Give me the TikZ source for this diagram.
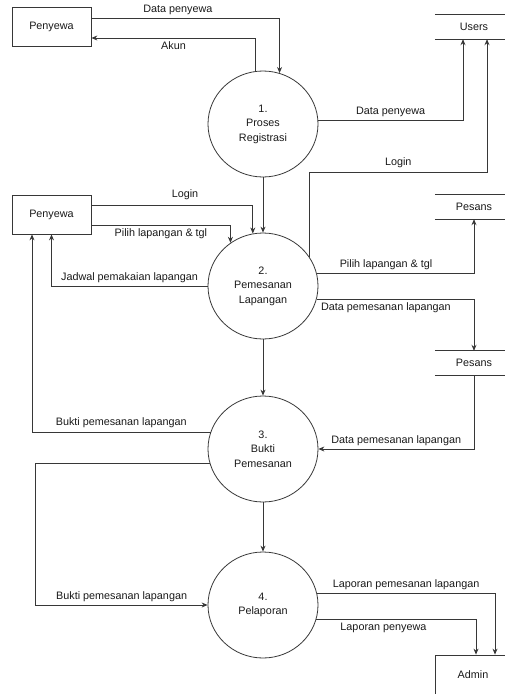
\documentclass[tikz,border=0pt]{standalone}
\usepackage{fontspec}
\setmainfont{Liberation Sans}
\usetikzlibrary{shapes,arrows.meta,positioning,calc}
\definecolor{linecolor}{RGB}{55,55,55}

\begin{document}
\begin{tikzpicture}[
    x=1pt, y=-1pt,
    every node/.style={font=\fontsize{10.8}{14.5}\selectfont, text=black!90},
    process/.style={ellipse, draw=linecolor, line width=0.8pt, minimum width=110pt, minimum height=106pt, align=center},
    entity/.style={rectangle, draw=linecolor, line width=0.8pt, minimum width=79pt, minimum height=39pt},
    store/.style={rectangle, minimum width=78pt, minimum height=24pt},
    arrow/.style={-{Stealth[length=6pt,width=5pt]}, line width=0.8pt, draw=linecolor}
]
\useasboundingbox (0,0) rectangle (504,694);

% External entities
\node[entity] (pen1) at (51.5,26.5) {Penyewa};
\node[entity] (pen2) at (51.5,214.5) {Penyewa};
\node[entity, minimum width=76pt, minimum height=40pt] (admin) at (473,675) {Admin};

% Processes
\node[process] (p1) at (263,124) {1.\\Proses\\Registrasi};
\node[process] (p2) at (263,286) {2.\\Pemesanan\\Lapangan};
\node[process] (p3) at (263,449) {3.\\Bukti\\Pemesanan};
\node[process] (p4) at (263,605) {4.\\Pelaporan};

% Data stores
\node[store] (users) at (474,27) {Users};
\node[store] (pes1) at (474,207) {Pesans};
\node[store] (pes2) at (474,363) {Pesans};
\foreach \s in {users,pes1,pes2}
    \draw[linecolor, line width=0.8pt] (\s.north west) -- (\s.north east) (\s.south west) -- (\s.south east);

% Registrasi
\draw[arrow] ([yshift=8.5pt]pen1.east) -| node[pos=0.23, above] {Data penyewa} (p1.72);
\draw[arrow] (p1.98) |- node[pos=0.75, below] {Akun} ([yshift=-11.5pt]pen1.east);
\draw[arrow] (p1.4) -| node[pos=0.25, above] {Data penyewa} ([xshift=-11pt]users.south);

% Pemesanan
\draw[arrow] ([yshift=9.5pt]pen2.east) -| node[pos=0.29, above, yshift=2pt] {Login} (p2.101);
\draw[arrow] ([yshift=-10.5pt]pen2.east) -| node[pos=0.25, below] {Pilih lapangan \& tgl} (p2.127);
\draw[arrow] (p1.south) -- (p2.north);
\draw[arrow] (p2.west) -| node[pos=0.25, above] {Jadwal pemakaian lapangan} (pen2.south);
\draw[arrow] (p2.32) |- ++(0,-85) -| node[pos=0.25, above] {Login} ([xshift=13pt]users.south);
\draw[arrow] (p2.13) -| node[pos=0.22, above] {Pilih lapangan \& tgl} (pes1.south);
\draw[arrow] (p2.346) -| node[pos=0.22, below] {Data pemesanan lapangan} (pes2.north);

% Bukti
\draw[arrow] (p2.south) -- (p3.north);
\draw[arrow] (pes2.south) |- node[pos=0.75, above] {Data pemesanan lapangan} (p3.east);
\draw[arrow] (p3.162) -| node[pos=0.25, above] {Bukti pemesanan lapangan} ([xshift=-19.5pt]pen2.south);
\draw[arrow] (p3.195) -| ([xshift=-172pt]p4.west) -- node[above] {Bukti pemesanan lapangan} (p4.west);

% Pelaporan
\draw[arrow] (p3.south) -- (p4.north);
\draw[arrow] (p4.12) -| node[pos=0.25, above] {Laporan pemesanan lapangan} ([xshift=22pt]admin.north);
\draw[arrow] (p4.345) -| node[pos=0.21, below] {Laporan penyewa} ([xshift=3pt]admin.north);

\end{tikzpicture}
\end{document}
